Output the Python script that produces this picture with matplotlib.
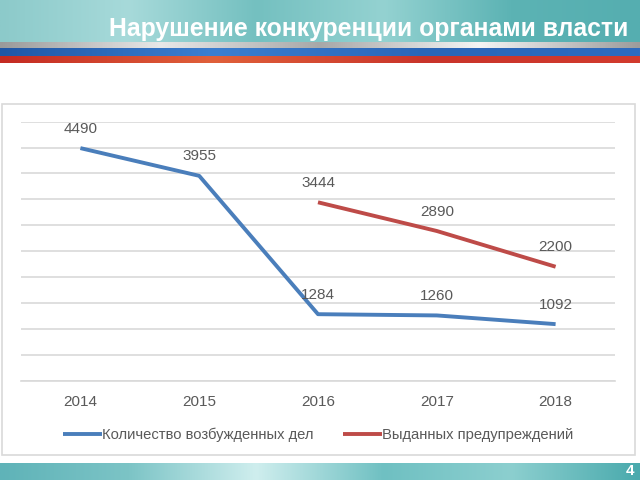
import matplotlib
matplotlib.use("Agg")
import matplotlib.pyplot as plt
import numpy as np
from matplotlib.colors import LinearSegmentedColormap
from matplotlib.patches import Rectangle

plt.rcParams['font.family'] = ['Liberation Sans', 'DejaVu Sans']

years = ["2014", "2015", "2016", "2017", "2018"]
cases = [4490, 3955, 1284, 1260, 1092]
warn_years = ["2016", "2017", "2018"]
warnings = [3444, 2890, 2200]

title = "Нарушение конкуренции органами власти"
label_cases = "Количество возбужденных дел"
label_warn = "Выданных предупреждений"
page = "4"

fig = plt.figure(figsize=(6.4, 4.8), dpi=100)

# background layer in pixel coordinates
bg = fig.add_axes([0, 0, 1, 1])
bg.set_xlim(0, 640)
bg.set_ylim(480, 0)
bg.axis('off')

teal = LinearSegmentedColormap.from_list("teal", ["#8ccaca", "#a7dada", "#74c0c0", "#94d2d1", "#5cb3b4", "#55aeb0"])
grad = np.linspace(0, 1, 256).reshape(1, -1)
bg.imshow(grad, cmap=teal, extent=(0, 640, 42, 0), aspect='auto', zorder=0)
silver = LinearSegmentedColormap.from_list("silver", ["#9a9a9a", "#e8e8e8", "#a8a8a8", "#f4f4f4", "#9c9c9c"])
bg.imshow(grad, cmap=silver, extent=(0, 640, 48, 42), aspect='auto', zorder=0)
blue = LinearSegmentedColormap.from_list("blue", ["#1f57a6", "#3b7fd0", "#2a66b8", "#2d6cc0"])
bg.imshow(grad, cmap=blue, extent=(0, 640, 56, 48), aspect='auto', zorder=0)
red = LinearSegmentedColormap.from_list("red", ["#c42a22", "#e0603a", "#c9342a", "#d23b2e"])
bg.imshow(grad, cmap=red, extent=(0, 640, 63, 56), aspect='auto', zorder=0)
foot = LinearSegmentedColormap.from_list("foot", ["#5fb3b8", "#7cc4c6", "#cfeeee", "#6fc0c2", "#8ccfcf", "#4aaaad"])
bg.imshow(grad, cmap=foot, extent=(0, 640, 480, 463), aspect='auto', zorder=0)

bg.text(628, 29, title, color="white", fontsize=17.8, fontweight="bold",
        ha="right", va="center")
bg.text(634, 471, page, color="white", fontsize=11, fontweight="bold", ha="right", va="center")

bg.add_patch(Rectangle((2, 104), 633, 351, fill=False, edgecolor="#d9d9d9", lw=1.2))

# chart
ax = fig.add_axes([21 / 640, 1 - 380.7 / 480, 594 / 640, 259 / 480])
ax.patch.set_alpha(0)
x = np.arange(len(years))
xw = [years.index(y) for y in warn_years]
ax.plot(x, cases, color="#4a7ebb", lw=2.8, solid_capstyle="butt")
ax.plot(xw, warnings, color="#be4b48", lw=2.8, solid_capstyle="butt")

for xi, v in zip(x, cases):
    ax.annotate(str(v), (xi, v), xytext=(0, 14), textcoords="offset points",
                ha="center", va="center", fontsize=11, color="#595959")
for xi, v in zip(xw, warnings):
    ax.annotate(str(v), (xi, v), xytext=(0, 14), textcoords="offset points",
                ha="center", va="center", fontsize=11, color="#595959")

ax.set_xlim(-0.5, 4.5)
ax.set_ylim(0, 5000)
ax.set_yticks(range(0, 5001, 500))
ax.set_yticklabels([])
ax.grid(axis='y', color="#d9d9d9", lw=1.2)
ax.set_axisbelow(True)
for s in ["top", "right", "left"]:
    ax.spines[s].set_visible(False)
ax.spines["bottom"].set_color("#d9d9d9")
ax.spines["bottom"].set_linewidth(1.2)
ax.set_xticks(x)
ax.set_xticklabels(years, fontsize=11, color="#595959")
ax.tick_params(axis='both', length=0, pad=10)

ax.legend([ax.lines[0], ax.lines[1]], [label_cases, label_warn], loc="upper center",
          bbox_to_anchor=(0.5, -0.13), ncol=2, frameon=False, fontsize=10.6,
          labelcolor="#595959", handlelength=2.65, handletextpad=0.0, columnspacing=2.0)

fig.savefig("out.png", dpi=100)
